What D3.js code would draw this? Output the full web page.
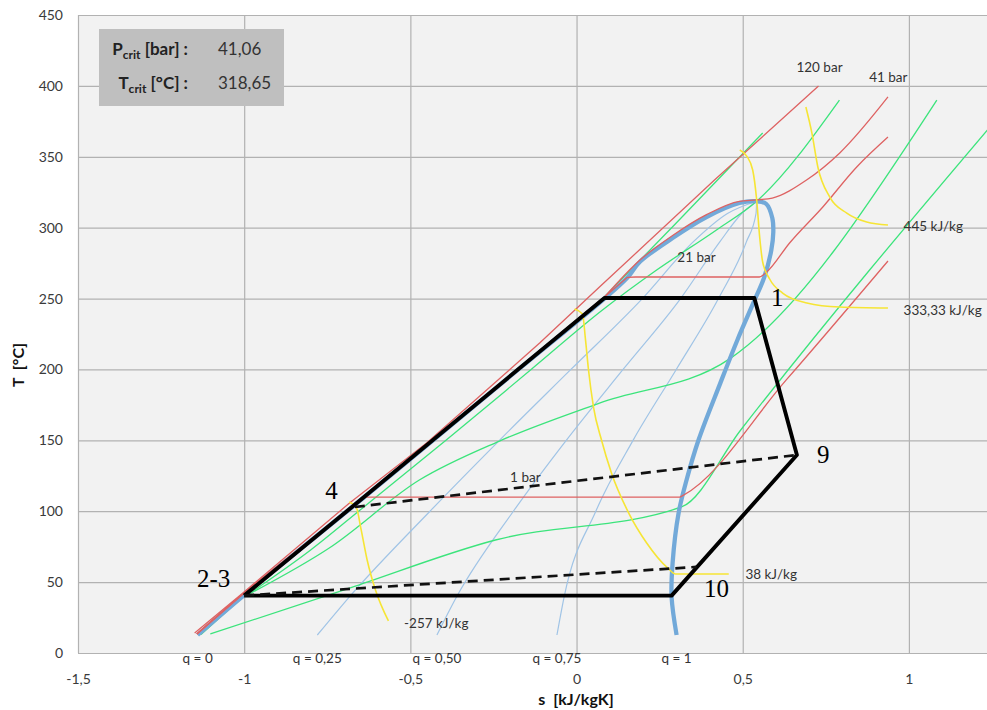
<!DOCTYPE html>
<html><head>
<meta charset="utf-8">
<title>T-s diagram</title>
<script src="https://cdn.jsdelivr.net/npm/d3@7"></script>
<style>
  body { margin: 0; background: #fff; }
  text { font-family: Lato, "Open Sans", sans-serif; }
  .tick text { font-size: 14px; fill: #3a3a3a; }
  .grid line { stroke: #b2b2b2; stroke-width: 1.2px; }
  .num { font-family: "Liberation Serif", "Times New Roman", serif; font-size: 25px; fill: #000; }
  .note { font-size: 13.5px; fill: #333; }
  .title { font-size: 16px; font-weight: bold; fill: #111; white-space: pre; }
</style>
</head>
<body>
<svg id="chart" width="987" height="710"></svg>

<script>
// axis ticks
const sTicks = [-1.5, -1, -0.5, 0, 0.5, 1];
const tTicks = [0, 50, 100, 150, 200, 250, 300, 350, 400, 450];

// saturation dome [s kJ/kgK, T °C]
const satLiquid = [[-1.14,12.7],[-1.0,40.9],[-0.675,103],[-0.432,150],[-0.175,200],[0.084,250],
                   [0.154,265],[0.19,275.8],[0.289,292.7],[0.391,307.5],[0.49,317.4],[0.542,318.65]];
const satVapour = [[0.542,318.65],[0.571,316.7],[0.589,306.8],[0.592,296.9],[0.586,284.2],[0.565,265.2],
                   [0.532,246.9],[0.484,220.8],[0.432,190],[0.367,150.2],[0.331,122],
                   [0.307,98.7],[0.289,63.5],[0.286,39.5],[0.301,12.7]];

// lines of constant quality
const quality25 = [[-0.78,12.7],[-0.682,40],[-0.441,100],[-0.232,150],[-0.017,200],[0.198,250],[0.351,290],[0.454,310],[0.542,318.65]];
const quality50 = [[-0.42,12.7],[-0.36,40],[-0.19,100],[-0.031,150],[0.14,200],[0.313,250],[0.431,290],[0.497,310],[0.542,318.65]];
const quality75 = [[-0.059,12.7],[-0.037,40],[0.058,100],[0.17,150],[0.30,200],[0.427,250],[0.511,290],[0.54,310],[0.542,318.65]];
const qualityNames = ["q = 0", "q = 0,25", "q = 0,50", "q = 0,75", "q = 1"];

// isobars
const bar120 = [[-1.149,14.1],[-1.004,42.3],[-0.683,105.8],[-0.451,148.1],[-0.111,218.6],[0.069,258.1],[0.415,333.6],[0.728,399.9]];
const bar41 = [[-1.1425,13.4],[-1.004,41.6],[-0.673,103.7],[0.084,251.1],[0.19,277],[0.289,294.5],[0.391,309.2],
               [0.49,318.6],[0.542,319.6],[0.589,320.9],[0.692,333.6],[0.792,352.7],[0.937,392.2]];
const bar21 = [[-1.1425,13.4],[-1.004,41.6],[-0.673,103.7],[0.084,251.1],[0.153,265],[0.177,265.2],[0.55,265.2],
               [0.572,268.7],[0.641,289.2],[0.741,314.6],[0.843,342.8],[0.937,363.9]];
const bar1 = [[-1.1425,13.4],[-1.004,41.6],[-0.637,110],[0.31,110],[0.322,111.4],[0.631,192.6],[0.937,276.5]];

// isochores
const isochore1 = [[-1.13,13],[-1.0,40.5],[-0.673,102.5],[0.069,247.6],[0.30,303.3],[0.56,366.8]];
const isochore2 = [[-0.99,41],[-0.80,72.6],[-0.64,103],[-0.392,150.2],[-0.135,200.3],[0.078,241.9],[0.241,270.1],[0.421,298.4],[0.542,318.65],[0.791,390]];
const isochore3 = [[-0.985,41.6],[-0.744,74.1],[-0.473,122],[-0.232,149.5],[0.069,176.3],[0.464,208],[1.084,390]];
const isochore4 = [[-1.102,13.4],[-0.683,45.8],[-0.244,79.7],[0.316,103],[0.494,157.3],[1.272,378.8]];

// isenthalps
const hMinus257 = [[-0.684,106.5],[-0.663,103],[-0.648,86.8],[-0.63,65.6],[-0.605,44.4],[-0.566,22.6]];
const h38 = [[-0.006,242.6],[0.018,239.1],[0.027,220.8],[0.036,199.6],[0.051,173.5],[0.075,150.2],[0.105,127],
             [0.157,98.7],[0.211,77.6],[0.274,60],[0.298,55.7],[0.458,55.7]];
const h333 = [[0.491,354.8],[0.512,350.5],[0.53,340.7],[0.542,319.5],[0.551,293.4],[0.56,275.8],[0.581,263.8],
              [0.62,253.9],[0.693,246.9],[0.792,244],[0.937,243.3]];
const h445 = [[0.69,385.1],[0.708,366.8],[0.726,342.8],[0.762,321.6],[0.813,310.3],[0.873,304],[0.937,301.9]];

// the cycle
const cycle = [[-1.0,40.5],[-0.673,103.5],[0.084,250.4],[0.535,250.4],[0.663,139.7],[0.286,40.5],[-1.0,40.5]];
const dash4to9 = [[-0.667,103],[0.663,139.7]];
const dash23 = [[-1.0,40.5],[0.361,60.7]];

// labels
const stateLabels = [
  { text: "1", s: 0.604, T: 244.7 },
  { text: "9", s: 0.742, T: 134 },
  { text: "10", s: 0.421, T: 39.5 },
  { text: "4", s: -0.737, T: 108.6 },
  { text: "2-3", s: -1.092, T: 46.5 }
];
const curveNotes = [
  { text: "120 bar", s: 0.731, T: 409.8, anchor: "middle" },
  { text: "41 bar", s: 0.938, T: 402.7, anchor: "middle" },
  { text: "21 bar", s: 0.361, T: 275.8, anchor: "middle" },
  { text: "1 bar", s: -0.154, T: 120.6, anchor: "middle" },
  { text: "445 kJ/kg", s: 0.984, T: 297.6, anchor: "start" },
  { text: "333,33 kJ/kg", s: 0.984, T: 238.4, anchor: "start" },
  { text: "38 kJ/kg", s: 0.508, T: 52.2, anchor: "start" },
  { text: "-257 kJ/kg", s: -0.519, T: 17.6, anchor: "start" }
];

const svg = d3.select("#chart");
const plotLeft = 78, plotRight = 992, plotTop = 15, plotBottom = 653;

const x = d3.scaleLinear().domain([-1.5, 1.25]).range([plotLeft, plotRight]);
const y = d3.scaleLinear().domain([0, 450]).range([plotBottom, plotTop]);
const comma = v => String(v).replace(".", ",");

// plot background + clip
svg.append("rect").attr("x", plotLeft).attr("y", plotTop)
   .attr("width", plotRight - plotLeft).attr("height", plotBottom - plotTop).attr("fill", "#f2f2f2");
svg.append("clipPath").attr("id", "plot")
   .append("rect").attr("x", plotLeft).attr("y", plotTop)
   .attr("width", plotRight - plotLeft).attr("height", plotBottom - plotTop);

// grid
svg.append("g").attr("class", "grid").attr("transform", `translate(0,${plotBottom})`)
   .call(d3.axisBottom(x).tickValues(sTicks).tickSize(-(plotBottom - plotTop)).tickFormat(""))
   .call(g => g.select(".domain").remove());
svg.append("g").attr("class", "grid").attr("transform", `translate(${plotLeft},0)`)
   .call(d3.axisLeft(y).tickValues(tTicks).tickSize(-(plotRight - plotLeft)).tickFormat(""))
   .call(g => g.select(".domain").remove());

// tick labels
svg.append("g").attr("transform", `translate(0,${plotBottom})`)
   .call(d3.axisBottom(x).tickValues(sTicks).tickSize(0).tickPadding(21).tickFormat(comma))
   .call(g => g.select(".domain").remove());
svg.append("g").attr("transform", `translate(${plotLeft},0)`)
   .call(d3.axisLeft(y).tickValues(tTicks).tickSize(0).tickPadding(15).tickFormat(comma))
   .call(g => g.select(".domain").remove());

// axis titles
svg.append("text").attr("class", "title").attr("x", 576).attr("y", 705)
   .attr("text-anchor", "middle").text("s\u00a0\u00a0[kJ/kgK]");
svg.append("text").attr("class", "title").attr("transform", "translate(24,365) rotate(-90)")
   .attr("text-anchor", "middle").text("T\u00a0\u00a0[°C]");

const layer = svg.append("g").attr("clip-path", "url(#plot)");

const smooth = d3.line().x(d => x(d[0])).y(d => y(d[1])).curve(d3.curveMonotoneX);
const straight = d3.line().x(d => x(d[0])).y(d => y(d[1]));
const dome = d3.line().x(d => x(d[0])).y(d => y(d[1])).curve(d3.curveCatmullRom.alpha(0.5));

function draw(d, color, width, dash) {
  layer.append("path").attr("d", d)
       .attr("fill", "none").attr("stroke", color).attr("stroke-width", width)
       .attr("stroke-dasharray", dash || null).attr("stroke-linejoin", "round");
}
// straight up to point k (compressed liquid part), smooth from there on
function split(data, k) {
  const rest = data.slice(k);
  return straight(data.slice(0, k + 1)) + (rest.length > 1 ? smooth(rest) : "");
}

[quality25, quality50, quality75].forEach(q => draw(smooth(q), "#a0c4e6", 1.2));
draw(straight(isochore1), "#3ce47c", 1.3);
[isochore2, isochore3, isochore4].forEach(v => draw(smooth(v), "#3ce47c", 1.3));
draw(dome(satLiquid.concat(satVapour.slice(1))), "#72a9d9", 4.3);
draw(straight(bar120), "#de6262", 1.3);
draw(split(bar41, 3), "#de6262", 1.3);
draw(split(bar21, 4), "#de6262", 1.3);
draw(split(bar1, 2), "#de6262", 1.3);
[hMinus257, h38, h333, h445].forEach(h => draw(smooth(h), "#f6e535", 1.6));

draw(straight(cycle), "#000", 3.9);
draw(straight(dash4to9), "#111", 2.7, "10,6");
draw(straight(dash23), "#111", 2.7, "10,6");

// quality labels under the bottom ends of each line
const qualityFoot = [satLiquid[0], quality25[0], quality50[0], quality75[0], satVapour[satVapour.length - 1]];
svg.selectAll("text.q").data(qualityNames).join("text").attr("class", "q note")
   .attr("x", (d, i) => x(qualityFoot[i][0])).attr("y", plotBottom + 10)
   .attr("text-anchor", "middle").text(d => d);

layer.selectAll("text.curve").data(curveNotes).join("text").attr("class", "curve note")
   .attr("x", d => x(d.s)).attr("y", d => y(d.T)).attr("text-anchor", d => d.anchor).text(d => d.text);

layer.selectAll("text.state").data(stateLabels).join("text").attr("class", "state num")
   .attr("x", d => x(d.s)).attr("y", d => y(d.T)).attr("text-anchor", "middle").text(d => d.text);

// critical point box
const box = svg.append("g");
box.append("rect").attr("x", 99).attr("y", 29).attr("width", 185).attr("height", 77).attr("fill", "#bfbfbf");
const rows = [["P", " [bar] :", "41,06", 55], ["T", " [°C] :", "318,65", 89]];
rows.forEach(r => {
  const t = box.append("text").attr("x", 188).attr("y", r[3]).attr("text-anchor", "end")
               .attr("font-weight", "bold").attr("font-size", "17px").attr("fill", "#222")
               .style("white-space", "pre");
  t.append("tspan").text(r[0]);
  t.append("tspan").attr("font-size", "12px").attr("dy", 4).text("crit");
  t.append("tspan").attr("dy", -4).text(r[1]);
  box.append("text").attr("x", 218).attr("y", r[3]).attr("font-size", "17px").attr("fill", "#333").text(r[2]);
});
</script>
</body>
</html>
